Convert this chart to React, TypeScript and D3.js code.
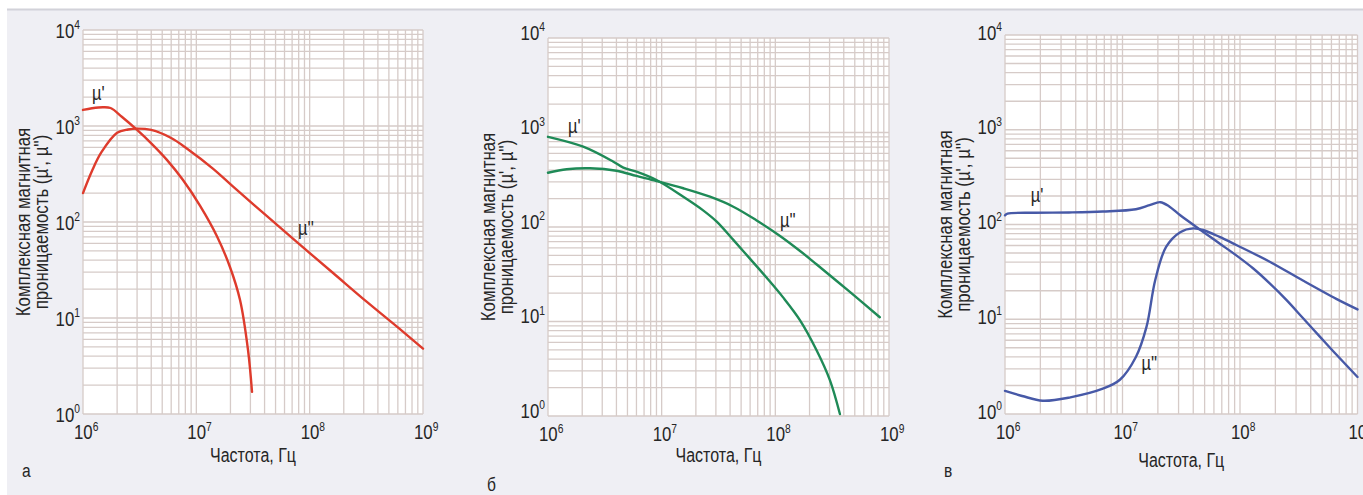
import React from "react";
import * as d3 from "d3";

// частоты, Гц, и значения µ', µ''
const freqA1 = [1e6, 1.2e6, 1.5e6, 1.75e6, 2.2e6, 3e6, 4e6, 5.5e6, 7.6e6, 1.08e7, 1.52e7, 1.98e7, 2.43e7, 2.86e7, 3.1e7];
const muA1 = [1470, 1530, 1570, 1540, 1250, 910, 660, 444, 275, 147, 71, 34, 15.4, 4.6, 1.7];
const freqA2 = [1e6, 1.2e6, 1.45e6, 2e6, 2.5e6, 3e6, 4e6, 6e6, 8.3e6, 1.4e7, 2.1e7, 4.2e7, 8.2e7, 1.6e8, 3.2e8, 6.3e8, 1e9];
const muA2 = [200, 340, 530, 850, 920, 940, 910, 750, 580, 360, 235, 115, 58, 29.6, 14.7, 7.6, 4.8];

const freqB1 = [1e6, 2.04e6, 3.76e6, 4.6e6, 6e6, 9e6, 1.55e7, 2.3e7, 3.05e7, 4.27e7, 6e7, 8.4e7, 1.17e8, 1.65e8, 2.3e8, 3.02e8, 3.7e8];
const muB1 = [900, 708, 491, 425, 385, 314, 209, 151, 114, 73, 46, 29, 18, 10.3, 5, 2.4, 1.05];
const freqB2 = [1e6, 1.46e6, 2.34e6, 4e6, 6e6, 9e6, 1.55e7, 2.66e7, 4.27e7, 6.8e7, 1.1e8, 1.65e8, 2.3e8, 4.5e8, 8.3e8];
const muB2 = [375, 408, 418, 394, 347, 307, 257, 209, 164, 118, 80.5, 55.8, 40.3, 20.7, 11.1];

const freqC1 = [1e6, 1.05e6, 1.8e6, 3.5e6, 6.8e6, 1.3e7, 1.7e7, 2.1e7, 2.5e7, 3.1e7, 4.84e7, 6.7e7, 9.3e7, 1.29e8, 1.79e8, 2.48e8, 3.43e8, 4.76e8, 6.6e8, 1e9];
const muC1 = [125, 130, 133, 134, 137, 145, 160, 172, 155, 125, 84, 63, 47.2, 34.5, 23.9, 16, 10.3, 6.6, 4.24, 2.46];
const freqC2 = [1e6, 1.4e6, 2.1e6, 3.6e6, 6.8e6, 9.5e6, 1.3e7, 1.6e7, 1.9e7, 2.35e7, 3.1e7, 4e7, 4.84e7, 6.7e7, 9.3e7, 1.79e8, 3.43e8, 6.6e8, 1e9];
const muC2 = [1.75, 1.55, 1.38, 1.5, 1.85, 2.3, 4, 8.3, 26, 58, 83, 91, 87.5, 74, 60.8, 40.5, 25.6, 16.4, 12.7];

const xTicks = [1e6, 1e7, 1e8, 1e9];
const yTicks = [1, 10, 100, 1000, 10000];
const panelLetters = ["а", "б", "в"];
const yTitle = ["Комплексная магнитная", "проницаемость (µ', µ'')"];
const xTitle = "Частота, Гц";
const curveNames = ["µ'", "µ''"];

const FONT = "'Liberation Sans', Arial, sans-serif";
const NARROW = 0.82; // Arial Narrow ~ Arial, сжатый по горизонтали

type Panel = {
  left: number; right: number; top: number; bottom: number;
  color: string;
  series: [number[], number[]][];
  labelAt: [number, number][];
  letter: string; letterY: number;
  xTitleY: number; tickDy: number;
};

const panels: Panel[] = [
  { left: 83, right: 423, top: 30, bottom: 414, color: "#de3b2c",
    series: [[freqA1, muA1], [freqA2, muA2]],
    labelAt: [[1.2e6, 1870], [7.9e7, 73]],
    letter: panelLetters[0], letterY: 477, xTitleY: 462, tickDy: 0 },
  { left: 548, right: 889, top: 38, bottom: 416, color: "#1f8a57",
    series: [[freqB1, muB1], [freqB2, muB2]],
    labelAt: [[1.5e6, 1000], [1.1e8, 100]],
    letter: panelLetters[1], letterY: 491, xTitleY: 462, tickDy: -6 },
  { left: 1005, right: 1357.5, top: 35, bottom: 414, color: "#4759a7",
    series: [[freqC1, muC1], [freqC2, muC2]],
    labelAt: [[1.66e6, 172], [1.45e7, 2.9]],
    letter: panelLetters[2], letterY: 477, xTitleY: 467, tickDy: -3 },
];

function T({ x, y, rot, anchor, size, children }: any) {
  return (
    <text transform={`translate(${x},${y})${rot ? " rotate(-90)" : ""} scale(${NARROW},1)`}
      textAnchor={anchor || "start"} fontSize={size} fill="#262626">{children}</text>
  );
}

function Chart({ p }: { p: Panel }) {
  const x = d3.scaleLog().domain([1e6, 1e9]).range([p.left, p.right]);
  const y = d3.scaleLog().domain([1, 1e4]).range([p.bottom, p.top]);
  const minorX: number[] = [];
  for (let e = 6; e < 9; e++) for (let k = 1; k <= 9; k++) minorX.push(k * 10 ** e);
  minorX.push(1e9);
  const minorY: number[] = [];
  for (let e = 0; e < 4; e++) for (let k = 1; k <= 9; k++) minorY.push(k * 10 ** e);
  minorY.push(1e4);
  const line = d3.line<[number, number]>()
    .x(d => x(d[0]))
    .y(d => y(d[1]))
    .curve(d3.curveCatmullRom.alpha(0.5));
  const midY = (p.top + p.bottom) / 2;
  const midX = (p.left + p.right) / 2;
  const grid = "#d6cbc8";
  return (
    <g>
      <rect x={p.left} y={p.top} width={p.right - p.left} height={p.bottom - p.top} fill="#ffffff" />
      {minorX.map((v, i) => (
        <line key={"gx" + i} x1={x(v)} x2={x(v)} y1={p.top} y2={p.bottom} stroke={grid} strokeWidth={1.3} />
      ))}
      {minorY.map((v, i) => (
        <line key={"gy" + i} x1={p.left} x2={p.right} y1={y(v)} y2={y(v)} stroke={grid} strokeWidth={1.3} />
      ))}
      {p.series.map(([f, m], i) => (
        <path key={"s" + i} d={line(f.map((v, j) => [v, m[j]] as [number, number])) || ""}
          fill="none" stroke={p.color} strokeWidth={2.4} strokeLinecap="round" />
      ))}
      {p.labelAt.map(([f, m], i) => (
        <T key={"l" + i} x={x(f)} y={y(m)} size={20}>{curveNames[i]}</T>
      ))}
      {yTicks.map((v, i) => (
        <T key={"yt" + i} x={p.left - 3} y={y(v) + 7.5 + p.tickDy} anchor="end" size={20.5}>
          10<tspan fontSize={12.5} dy={-8.5}>{Math.round(Math.log10(v))}</tspan>
        </T>
      ))}
      {xTicks.map((v, i) => (
        <T key={"xt" + i} x={x(v) - 9} y={p.bottom + 25} size={20.5}>
          10<tspan fontSize={12.5} dy={-8.5}>{Math.round(Math.log10(v))}</tspan>
        </T>
      ))}
      {yTitle.map((t, i) => (
        <T key={"yti" + i} x={p.left - 53 + i * 17.5} y={midY} rot anchor="middle" size={20.5}>{t}</T>
      ))}
      <T x={midX} y={p.xTitleY} anchor="middle" size={19.5}>{xTitle}</T>
      <T x={p.left - 61} y={p.letterY} size={19}>{p.letter}</T>
    </g>
  );
}

export default function App() {
  return (
    <svg width={1363} height={495} style={{ position: "absolute", left: 0, top: 0 }} fontFamily={FONT}>
      <rect x={0} y={0} width={1363} height={495} fill="#ffffff" />
      <rect x={7} y={9} width={1356} height={486} fill="#efeff4" />
      <line x1={7} x2={1363} y1={9.5} y2={9.5} stroke="#d2d2d9" strokeWidth={2} />
      {panels.map((p, i) => <Chart key={i} p={p} />)}
    </svg>
  );
}
